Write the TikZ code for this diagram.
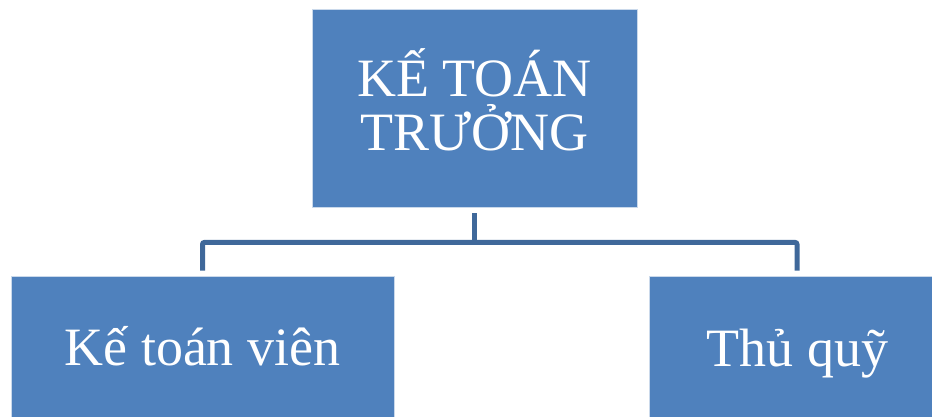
\documentclass[tikz,border=0pt]{standalone}
\usepackage{fontspec}
\setmainfont{Liberation Serif}
\definecolor{boxblue}{HTML}{4F81BD}
\definecolor{linkblue}{HTML}{3F689A}
\begin{document}
\begin{tikzpicture}[x=1pt,y=-1pt,
  orgbox/.style={rectangle, fill=boxblue, draw=white!70!boxblue, line width=0.8pt, inner sep=0pt},
  boxtext/.style={text=white, font=\fontsize{54}{53.5}\selectfont, align=center, inner sep=0pt},
  conn/.style={draw=linkblue, line width=5pt, rounded corners=2pt}]
\useasboundingbox (0,0) rectangle (932,417);
\clip (0,0) rectangle (932,417);
\node[orgbox, minimum width=325pt, minimum height=198pt] (top) at (474.5,108) {};
\node[orgbox, minimum width=383pt, minimum height=150pt] (left) at (202.5,351) {};
\node[orgbox, minimum width=296pt, minimum height=150pt] (right) at (797,351) {};
\node[boxtext, anchor=base] (ttext) at (474.5,150) {KẾ TOÁN\\TRƯỞNG};
\node[boxtext, anchor=base] (ltext) at (202.5,365) {Kế toán viên};
\node[boxtext, anchor=base] (rtext) at (797.5,366) {Thủ quỹ};
\draw[conn] ([yshift=-6pt]top.south) -- ([yshift=-35pt]top.south);
\draw[conn] ([yshift=5pt]left.north) |- ([yshift=-35pt]top.south) -| ([yshift=5pt]right.north);
\end{tikzpicture}
\end{document}
